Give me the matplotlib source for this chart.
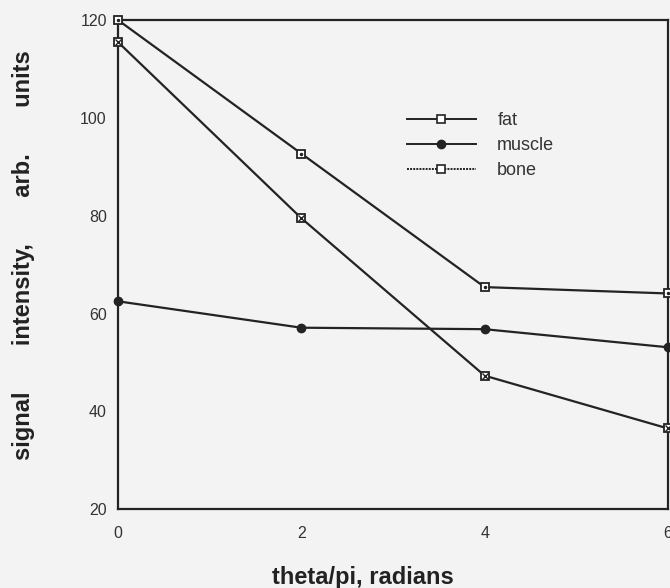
import matplotlib
matplotlib.use("Agg")
import matplotlib.pyplot as plt
from matplotlib.lines import Line2D

plt.rcParams['font.family'] = ['Liberation Sans', 'DejaVu Sans']

# values
theta = [0, 2, 4, 6]
fat = [120.0, 92.7, 65.4, 64.1]
muscle = [62.5, 57.1, 56.8, 53.1]
bone = [115.5, 79.5, 47.3, 36.5]

xticks = [0, 2, 4, 6]
yticks = [20, 40, 60, 80, 100, 120]

ink = '#232323'
paper = '#f3f3f3'

fig = plt.figure(figsize=(6.7, 5.88), dpi=100, facecolor=paper)
ax = fig.add_axes([0.176, 0.134, 0.821, 0.832], facecolor=paper)

ax.plot(theta, fat, color=ink, lw=1.6, marker='s', ms=6, mfc='white',
        mec=ink, mew=1.3, clip_on=False, zorder=3)
ax.plot(theta, fat, ls='none', marker='.', ms=3, color=ink, clip_on=False, zorder=4)
ax.plot(theta, muscle, color=ink, lw=1.6, marker='o', ms=6, mfc=ink,
        mec=ink, clip_on=False, zorder=3)
ax.plot(theta, bone, color=ink, lw=1.6, marker='s', ms=6, mfc='white',
        mec=ink, mew=1.3, clip_on=False, zorder=3)
ax.plot(theta, bone, ls='none', marker='x', ms=4, mew=1.0, color=ink,
        clip_on=False, zorder=4)

ax.set_xlim(0, 6)
ax.set_ylim(20, 120)
ax.set_xticks(xticks)
ax.set_yticks(yticks)
ax.tick_params(length=0, labelsize=11.5, colors='#333333')
ax.tick_params(axis='x', pad=12)
ax.tick_params(axis='y', pad=8)
for s in ax.spines.values():
    s.set_color(ink)
    s.set_linewidth(1.6)

ax.set_xlabel('theta/pi, radians', fontsize=17, fontweight='bold',
              color='#222222', va='top')
ax.xaxis.set_label_coords(0.445, -0.117)
ax.set_ylabel('signal       intensity,       arb.       units', fontsize=17,
              fontweight='bold', color='#222222')
ax.yaxis.set_label_coords(-0.150, 0.519)

handles = [
    Line2D([], [], color=ink, lw=1.4, marker='s', ms=6, mfc='white', mec=ink, mew=1.2),
    Line2D([], [], color=ink, lw=1.4, marker='o', ms=6, mfc=ink, mec=ink),
    Line2D([], [], color=ink, lw=1.4, ls=(0, (1, 0.6)), marker='s', ms=6,
           mfc='white', mec=ink, mew=1.2),
]
leg = ax.legend(handles, ['fat', 'muscle', 'bone'], loc='upper left',
                bbox_to_anchor=(0.496, 0.845), frameon=False, fontsize=13,
                handlelength=3.8, handletextpad=1.2, labelspacing=0.45)
for t in leg.get_texts():
    t.set_color('#333333')

fig.savefig('out.png', dpi=100, facecolor=paper)
